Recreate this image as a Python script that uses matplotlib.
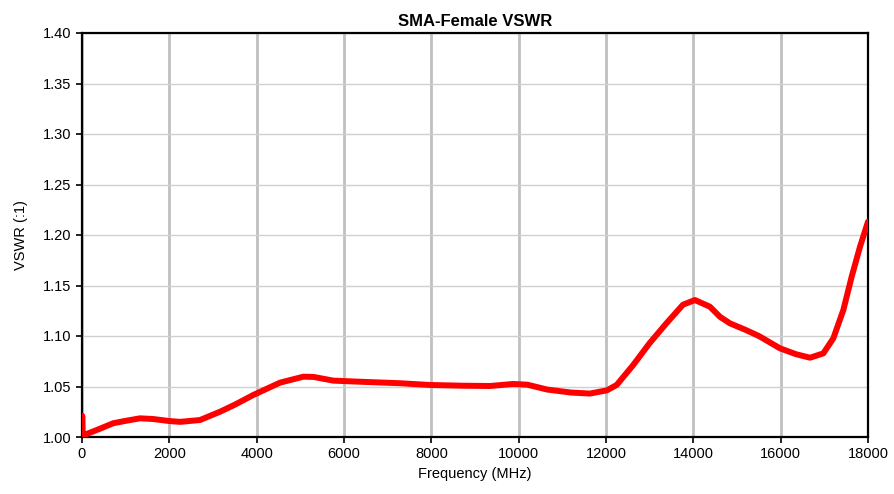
import matplotlib.pyplot as plt

plt.rcParams['font.family'] = ['Liberation Sans', 'DejaVu Sans']

# frequency (MHz) and VSWR
freq = [0, 5, 15, 60, 107, 400, 713, 1000, 1328, 1630, 2000, 2244, 2702,
        3160, 3500, 3923, 4534, 5068, 5300, 5755, 6500, 7300, 7969, 8700,
        9343, 9870, 10200, 10648, 11200, 11633, 12020, 12244, 12618, 13000,
        13382, 13763, 14037, 14380, 14610, 14840, 15200, 15500, 15985,
        16350, 16672, 16977, 17206, 17435, 17626, 17817, 18000]
vswr = [1.003, 1.021, 1.004, 1.002, 1.003, 1.008, 1.0136, 1.016, 1.0185,
        1.0178, 1.0158, 1.015, 1.0168, 1.025, 1.032, 1.0416, 1.0538,
        1.0597, 1.0595, 1.0558, 1.0545, 1.0532, 1.0515, 1.0508, 1.0505,
        1.0525, 1.0518, 1.047, 1.044, 1.043, 1.0462, 1.0515, 1.071, 1.093,
        1.1125, 1.131, 1.1356, 1.129, 1.119, 1.1125, 1.106, 1.100, 1.0878,
        1.082, 1.0785, 1.0828, 1.0977, 1.1257, 1.1587, 1.1884, 1.2132]

x_ticks = list(range(0, 18001, 2000))
y_ticks = [1.00, 1.05, 1.10, 1.15, 1.20, 1.25, 1.30, 1.35, 1.40]

fig = plt.figure(figsize=(8.94, 4.94), dpi=100)
ax = fig.add_axes([82 / 894, 1 - 437 / 494, 786 / 894, 404 / 494])

ax.plot(freq, vswr, color='#ff0000', linewidth=4.3, solid_capstyle='round',
        solid_joinstyle='round', zorder=3)

ax.set_xlim(0, 18000)
ax.set_ylim(1.0, 1.4)
ax.set_xticks(x_ticks)
ax.set_yticks(y_ticks)
ax.set_yticklabels([f'{v:.2f}' for v in y_ticks])

ax.xaxis.grid(True, color='#c0c0c0', linewidth=2.0)
ax.yaxis.grid(True, color='#d0d0d0', linewidth=1.0)
ax.set_axisbelow(True)

for s in ax.spines.values():
    s.set_linewidth(1.6)
    s.set_color('black')

ax.tick_params(direction='out', length=4, width=1.2, labelsize=10.5, colors='black')

ax.set_title('SMA-Female VSWR', fontsize=12, fontweight='bold', pad=5)
ax.set_xlabel('Frequency (MHz)', fontsize=10.5, labelpad=4)
ax.set_ylabel('VSWR (:1)', fontsize=10.5, labelpad=11)

fig.savefig('out.png', dpi=100)
